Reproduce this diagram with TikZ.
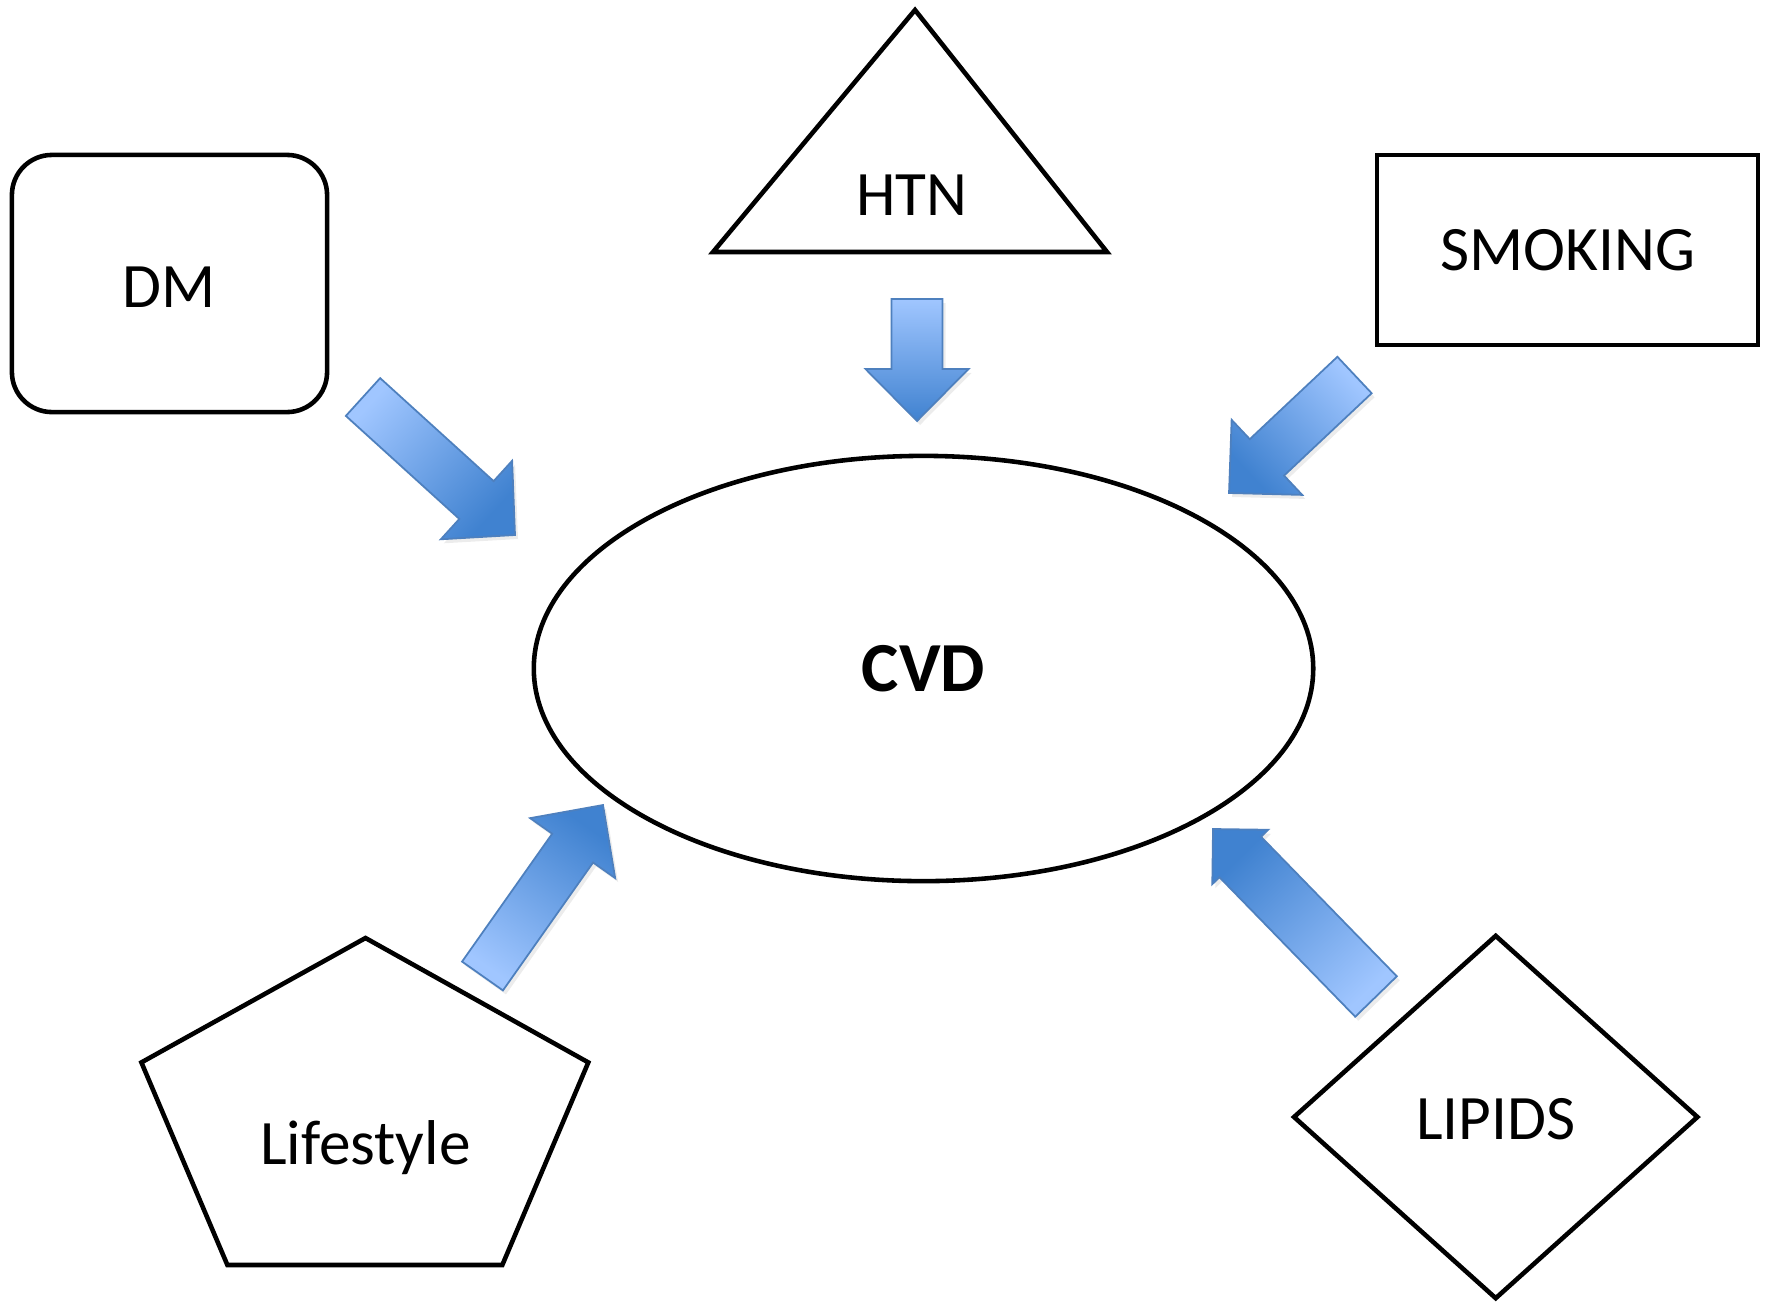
\documentclass[tikz,border=0pt]{standalone}
\usepackage{fontspec}
\setmainfont{Carlito}
\usetikzlibrary{calc,shapes.geometric,shadows}

\definecolor{arrowlight}{RGB}{160,198,255}
\definecolor{arrowdark}{RGB}{64,130,208}
\definecolor{arrowline}{RGB}{78,128,190}

% block arrow: tail, tip, half body, half head, head length, shading angle
\newcommand{\fatarrow}[6]{%
  \coordinate (#1h) at ($(#2)!#5!(#1)$);
  \path[fatfill,shading angle=#6]
    ($(#1)!#3!90:(#2)$) -- ($(#1h)!#3!90:(#2)$) -- ($(#1h)!#4!90:(#2)$) -- (#2)
    -- ($(#1h)!#4!-90:(#2)$) -- ($(#1h)!#3!-90:(#2)$) -- ($(#1)!#3!-90:(#2)$) -- cycle;
}

\begin{document}
\begin{tikzpicture}[x=0.01cm,y=-0.01cm,line width=1.3pt,
  every node/.style={font=\fontsize{18}{22}\selectfont},
  fatfill/.style={draw=arrowline,line width=0.5pt,top color=arrowlight,bottom color=arrowdark,
    drop shadow={opacity=0.15,shadow xshift=0.03cm,shadow yshift=-0.04cm}}]
\useasboundingbox (0,0) rectangle (1774,1303);
\node[draw,ellipse,minimum width=7.79cm,minimum height=4.25cm,font=\bfseries\fontsize{20}{24}\selectfont] (0) at (923.5,668.5) {CVD};
\node[draw,rounded corners=0.4cm,minimum width=3.15cm,minimum height=2.57cm,text height=0.48cm,text depth=0cm] (1) at (169.5,283.5) {DM};
\node (2) at (912,195) {HTN};
\draw (915,10) -- (1107,252) -- (713,252) -- cycle;
\node[draw,minimum width=3.81cm,minimum height=1.9cm] (3) at (1567.5,250) {SMOKING};
\node (4) at (365.5,1148) {Lifestyle};
\draw (365.5,938) -- (588.3,1062.4) -- (502.3,1265) -- (227.4,1265) -- (141.4,1062.4) -- cycle;
\node[draw,diamond,minimum width=4.05cm,minimum height=3.64cm,text height=0.46cm] (5) at (1495.7,1117) {LIPIDS};
% arrows towards CVD
\coordinate (1a) at (363,397); \coordinate (1b) at (515,535);
\coordinate (2a) at (917,299); \coordinate (2b) at (917,421);
\coordinate (3a) at (1354.5,375); \coordinate (3b) at (1229,493);
\coordinate (4a) at (482.5,976); \coordinate (4b) at (603,805);
\coordinate (5a) at (1376,996.5); \coordinate (5b) at (1213,829);
\fatarrow{1a}{1b}{0.255cm}{0.53cm}{0.52cm}{47.8}
\fatarrow{2a}{2b}{0.255cm}{0.515cm}{0.52cm}{0}
\fatarrow{3a}{3b}{0.25cm}{0.515cm}{0.52cm}{-46.8}
\fatarrow{4a}{4b}{0.25cm}{0.52cm}{0.527cm}{144.8}
\fatarrow{5a}{5b}{0.29cm}{0.39cm}{0.39cm}{224.2}
\end{tikzpicture}
\end{document}
